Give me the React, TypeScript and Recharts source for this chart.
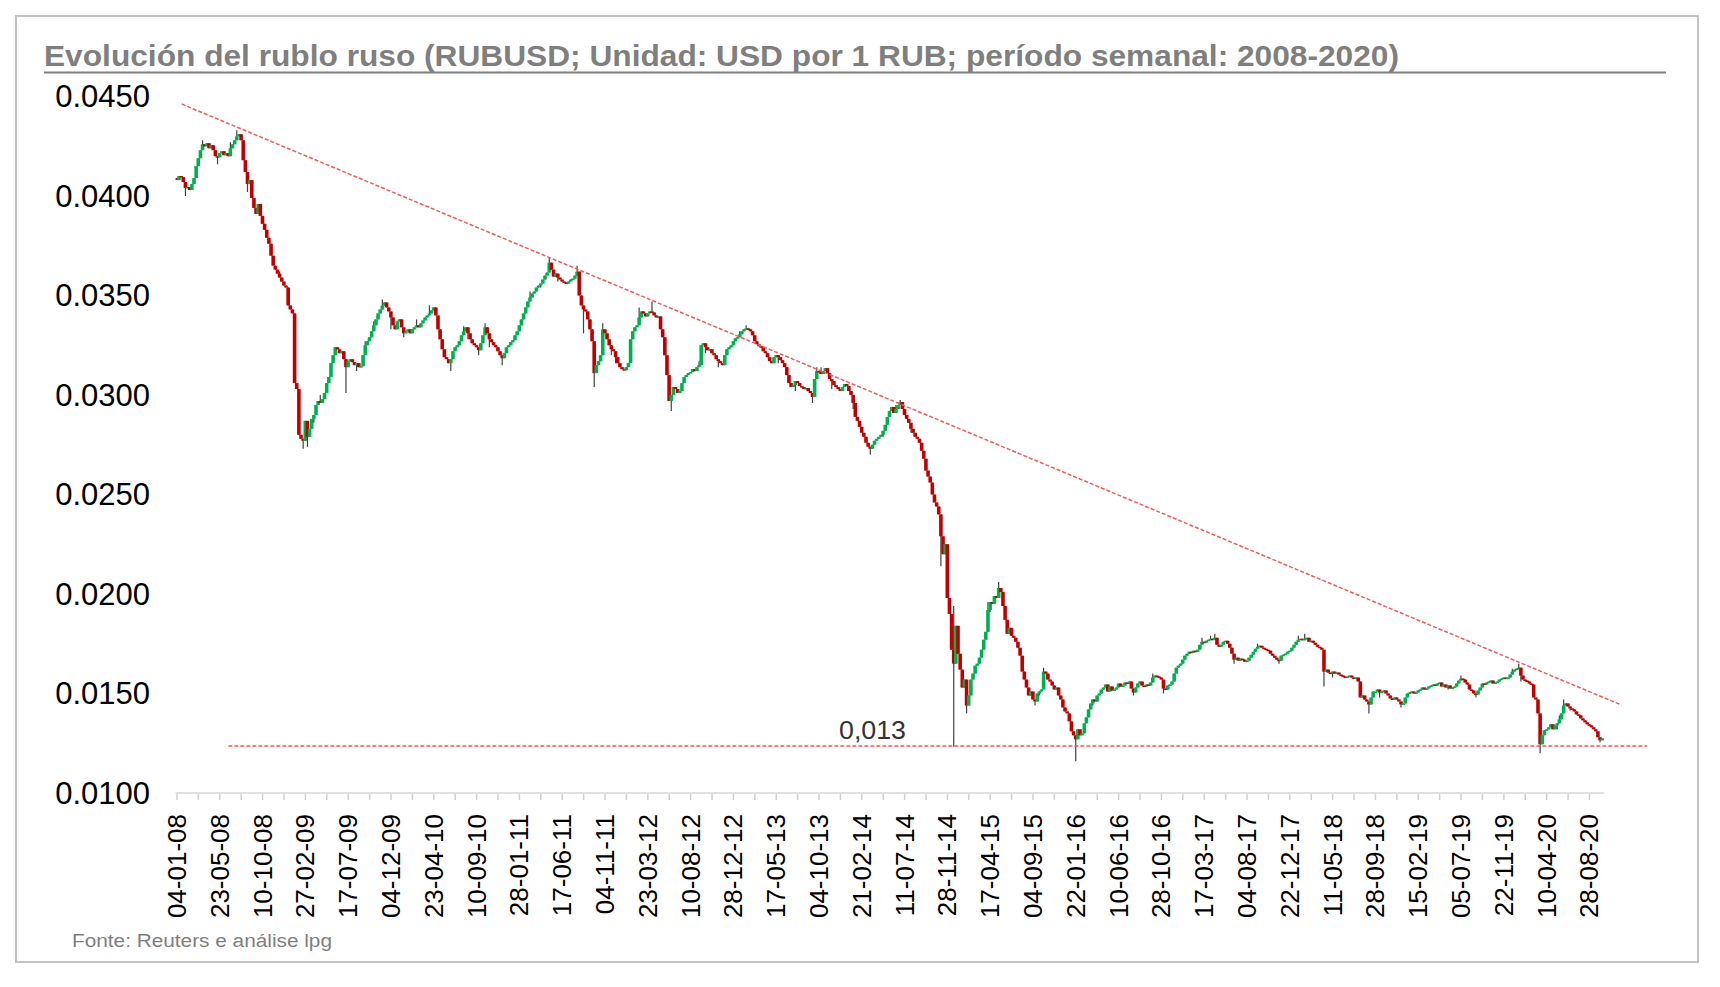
import React from "react";
import { ComposedChart, Bar, XAxis, YAxis, ReferenceLine } from "recharts";

// weekly closes RUBUSD, in units of 0.00001 USD (Friday of each week)
const close2008 = [
  4080, 4100, 4095, 4070, 4040, 4045, 4030, 4060, 4090, 4150,
  4190, 4230, 4260, 4250, 4265, 4240, 4255, 4230, 4200, 4195,
  4215, 4225, 4205, 4215, 4200, 4240, 4260, 4280, 4300, 4310,
  4280, 4180, 4120, 4060, 4080, 3990, 3940, 3910, 3960, 3900,
  3860, 3830, 3790, 3760, 3700, 3650, 3630, 3610, 3590, 3570,
  3550, 3540,
];
const close2009 = [
  3450, 3430, 3410, 3060, 3030, 2800, 2780, 2770,
  2870, 2790, 2830, 2880, 2900, 2950, 2970, 2960, 2980, 3010,
  3060, 3090, 3160, 3200, 3240, 3230, 3210, 3220, 3180, 3140,
  3170, 3180, 3165, 3150, 3160, 3140, 3145, 3200, 3250, 3270,
  3290, 3320, 3350, 3380, 3410, 3430, 3450, 3465, 3440, 3420,
  3390, 3350, 3330, 3370,
];
const close2010 = [
  3380, 3340, 3310, 3320, 3330, 3310,
  3330, 3340, 3350, 3340, 3360, 3375, 3390, 3400, 3410, 3425,
  3440, 3400, 3330, 3280, 3230, 3190, 3180, 3160, 3180, 3220,
  3240, 3250, 3270, 3300, 3320, 3340, 3310, 3280, 3260, 3250,
  3240, 3225, 3260, 3300, 3340, 3310, 3280, 3265, 3250, 3240,
  3220, 3200, 3185, 3210, 3240, 3250, 3265,
];
const close2011 = [
  3275, 3300, 3320,
  3350, 3380, 3410, 3440, 3470, 3490, 3510, 3520, 3540, 3550,
  3560, 3580, 3600, 3615, 3665, 3630, 3595, 3610, 3590, 3580,
  3570, 3565, 3560, 3570, 3580, 3585, 3600, 3620, 3500, 3450,
  3430, 3420, 3380, 3330, 3270, 3110, 3150, 3170, 3200, 3330,
  3310, 3280, 3250, 3230, 3220, 3190, 3160, 3140, 3130,
];
const close2012 = [
  3125,
  3140, 3160, 3280, 3320, 3340, 3350, 3390, 3420, 3410, 3395,
  3410, 3420, 3415, 3400, 3390, 3395, 3330, 3290, 3200, 3100,
  2970, 3000, 3040, 3030, 3010, 3020, 3060, 3090, 3100, 3110,
  3115, 3130, 3120, 3140, 3150, 3250, 3260, 3240, 3225, 3230,
  3210, 3200, 3180, 3170, 3160, 3150, 3200, 3230, 3240, 3250,
  3270,
];
const close2013 = [
  3285, 3290, 3305, 3320, 3330, 3335, 3330, 3320, 3300,
  3270, 3255, 3245, 3240, 3220, 3210, 3190, 3170, 3160, 3190,
  3200, 3190, 3175, 3160, 3140, 3100, 3060, 3040, 3050, 3070,
  3060, 3045, 3040, 3030, 3035, 3020, 3010, 2990, 3080, 3120,
  3115, 3105, 3120, 3135, 3110, 3080, 3070, 3050, 3040, 3030,
  3020, 3040, 3055,
];
const close2014 = [
  3045, 3020, 3000, 2960, 2890, 2870, 2840,
  2810, 2790, 2760, 2740, 2730, 2750, 2770, 2780, 2790, 2800,
  2820, 2850, 2890, 2920, 2940, 2910, 2930, 2950, 2965, 2930,
  2900, 2880, 2860, 2830, 2810, 2790, 2780, 2760, 2720, 2680,
  2620, 2590, 2560, 2500, 2460, 2440, 2400, 2290, 2200, 2250,
  1980, 1900, 1720, 1650, 1840,
];
const close2015 = [
  1700, 1620, 1530, 1570, 1440,
  1490, 1570, 1600, 1640, 1650, 1680, 1720, 1770, 1810, 1920,
  1960, 1950, 1990, 1980, 2030, 2010, 1940, 1870, 1800, 1830,
  1790, 1780, 1760, 1730, 1690, 1610, 1570, 1530, 1490, 1510,
  1470, 1460, 1500, 1510, 1520, 1610, 1600, 1570, 1560, 1540,
  1520, 1530, 1490, 1470, 1430, 1410, 1400,
];
const close2016 = [
  1360, 1310, 1290,
  1270, 1320, 1290, 1300, 1350, 1380, 1420, 1450, 1470, 1460,
  1490, 1500, 1520, 1530, 1545, 1510, 1535, 1515, 1520, 1530,
  1550, 1535, 1540, 1555, 1550, 1560, 1525, 1505, 1530, 1550,
  1560, 1540, 1535, 1545, 1540, 1555, 1580, 1590, 1585, 1580,
  1570, 1525, 1520, 1540, 1545, 1560, 1600, 1630, 1640, 1650,
];
const close2017 = [
  1670, 1690, 1700, 1710, 1705, 1715, 1710, 1720, 1745, 1760,
  1755, 1765, 1770, 1775, 1770, 1780, 1745, 1735, 1745, 1760,
  1765, 1750, 1730, 1700, 1670, 1680, 1665, 1675, 1670, 1660,
  1665, 1680, 1695, 1710, 1725, 1735, 1740, 1730, 1725, 1720,
  1715, 1700, 1690, 1680, 1670, 1665, 1690, 1695, 1700, 1710,
  1715, 1730,
];
const close2018 = [
  1745, 1760, 1770, 1775, 1768, 1775, 1780, 1760,
  1765, 1755, 1745, 1735, 1730, 1720, 1610, 1620, 1605, 1600,
  1610, 1600, 1605, 1595, 1590, 1585, 1580, 1585, 1590, 1580,
  1575, 1580, 1560, 1480, 1490, 1470, 1460, 1445, 1480, 1510,
  1510, 1520, 1505, 1510, 1515, 1500, 1490, 1475, 1470, 1480,
  1470, 1460, 1445, 1450,
];
const close2019 = [
  1480, 1500, 1505, 1510, 1500, 1505,
  1515, 1520, 1530, 1520, 1525, 1535, 1540, 1545, 1540, 1550,
  1555, 1535, 1545, 1530, 1540, 1525, 1530, 1535, 1550, 1565,
  1575, 1570, 1555, 1545, 1520, 1515, 1500, 1495, 1515, 1530,
  1550, 1545, 1555, 1560, 1565, 1550, 1555, 1560, 1570, 1575,
  1580, 1575, 1580, 1595, 1610, 1620,
];
const close2020 = [
  1625, 1630, 1590, 1570,
  1565, 1560, 1550, 1545, 1480, 1470, 1400, 1245, 1290, 1315,
  1320, 1330, 1345, 1320, 1340, 1350, 1370, 1400, 1440, 1450,
  1435, 1425, 1420, 1410, 1395, 1390, 1375, 1365, 1355, 1345,
  1340, 1330, 1320, 1310, 1280, 1265, 1275,
];

const weeklyCloses = [
  ...close2008, ...close2009, ...close2010, ...close2011, ...close2012,
  ...close2013, ...close2014, ...close2015, ...close2016, ...close2017,
  ...close2018, ...close2019, ...close2020,
];
const firstOpen = 4090;

// visible shadows: [week, price]
const wickHighs: [number, number][] = [
  [12, 4280], [25, 4270], [28, 4330], [48, 3620], [67, 3000], [88, 3270],
  [92, 3370], [96, 3480], [112, 3380], [118, 3450], [134, 3345], [144, 3360],
  [165, 3520], [174, 3690], [187, 3650], [199, 3360], [216, 3440], [222, 3470],
  [244, 3170], [263, 3320], [266, 3350], [299, 3140], [301, 3140], [336, 2950],
  [338, 2975], [363, 1940], [379, 1960], [384, 2060], [405, 1630], [456, 1600],
  [479, 1780], [483, 1790], [485, 1800], [505, 1750], [524, 1790], [527, 1800],
  [600, 1590], [624, 1625], [627, 1650], [646, 1390], [648, 1470],
];
const wickLows: [number, number][] = [
  [4, 4000], [19, 4160], [33, 4020], [55, 3260], [59, 2730], [61, 2740],
  [64, 2860], [74, 3200], [79, 3010], [84, 3120], [100, 3330], [106, 3290],
  [128, 3120], [136, 3280], [141, 3200], [146, 3240], [152, 3150], [170, 3540],
  [178, 3570], [190, 3310], [195, 3040], [203, 3200], [205, 3160], [231, 2920],
  [236, 3020], [247, 3210], [253, 3140], [281, 3160], [289, 3020], [297, 2960],
  [306, 3030], [316, 2930], [324, 2700], [330, 2790], [343, 2810], [357, 2140],
  [363, 1233], [369, 1400], [372, 1580], [380, 1910], [401, 1440], [403, 1490],
  [420, 1160], [428, 1440], [447, 1490], [461, 1500], [494, 1650], [515, 1650],
  [536, 1535], [540, 1580], [557, 1400], [562, 1480], [572, 1430], [594, 1520],
  [607, 1480], [628, 1560], [637, 1200], [645, 1320], [651, 1415], [665, 1255],
];

// one label every 20 weeks
const dateLabels = [
  "04-01-08", "23-05-08", "10-10-08", "27-02-09", "17-07-09", "04-12-09",
  "23-04-10", "10-09-10", "28-01-11", "17-06-11", "04-11-11", "23-03-12",
  "10-08-12", "28-12-12", "17-05-13", "04-10-13", "21-02-14", "11-07-14",
  "28-11-14", "17-04-15", "04-09-15", "22-01-16", "10-06-16", "28-10-16",
  "17-03-17", "04-08-17", "22-12-17", "11-05-18", "28-09-18", "15-02-19",
  "05-07-19", "22-11-19", "10-04-20", "28-08-20",
];
const yTicks = [0.01, 0.015, 0.02, 0.025, 0.03, 0.035, 0.04, 0.045];

// annotations
const supportLevel = 0.01236;
const supportFrom = 24;
const supportTo = 687;
const trendStart = { x: 2.2, y: 0.04462 };
const trendEnd = { x: 675, y: 0.01442 };

const FONT = '"Liberation Sans", Arial, sans-serif';
const GREEN = "#00b050";
const RED = "#c00000";
const DASH = "#f25a5a";

const highMap = new Map(wickHighs);
const lowMap = new Map(wickLows);

const data = weeklyCloses.map((c, i) => {
  const open = (i === 0 ? firstOpen : weeklyCloses[i - 1]) / 1e5;
  const close = c / 1e5;
  const high = Math.max(open, close, (highMap.get(i) ?? 0) / 1e5);
  const low = Math.min(open, close, (lowMap.get(i) ?? 1e9) / 1e5);
  return { i, open, close, high, low, range: [low, high] };
});

const xTicks = Array.from({ length: dateLabels.length * 2 - 1 }, (_, k) => k * 10);

const Candle = (props: any) => {
  const { x, y, width, height, payload } = props;
  if (!payload) return null;
  const { open, close, high, low } = payload;
  const cx = x + width / 2;
  const span = high - low;
  const toY = (v: number) => (span > 0 ? y + ((high - v) / span) * height : y);
  const top = toY(Math.max(open, close));
  const bottom = toY(Math.min(open, close));
  const up = close >= open;
  return (
    <g>
      <line x1={cx} x2={cx} y1={toY(high)} y2={toY(low)} stroke="#404040" strokeWidth={1.2} />
      <rect x={cx - 1.8} y={top} width={3.6} height={Math.max(bottom - top, 1.5)} fill={up ? GREEN : RED} />
    </g>
  );
};

const XTick = ({ x, payload }: any) => {
  const v = payload.value;
  const label = v % 20 === 0 ? dateLabels[v / 20] : null;
  return (
    <g>
      <line x1={x} x2={x} y1={794} y2={800} stroke="#d0d0d0" strokeWidth={1.5} />
      {label && (
        <text
          x={x}
          y={814}
          transform={`rotate(-90 ${x} 814)`}
          textAnchor="end"
          dominantBaseline="central"
          fontFamily={FONT}
          fontSize={26}
          fill="#000"
        >
          {label}
        </text>
      )}
    </g>
  );
};

const YTick = ({ y, payload }: any) => (
  <text x={150} y={y} textAnchor="end" dominantBaseline="central" fontFamily={FONT} fontSize={31} fill="#000">
    {payload.value.toFixed(4)}
  </text>
);

export default function App() {
  return (
    <div style={{ position: "fixed", left: 0, top: 0, width: 1720, height: 987, background: "#fff" }}>
      <div
        style={{
          position: "absolute",
          left: 15,
          top: 15,
          width: 1684,
          height: 948,
          border: "2px solid #c4c4c4",
          boxSizing: "border-box",
        }}
      />
      <div style={{ position: "absolute", left: 0, top: 0 }}>
        <ComposedChart width={1720} height={987} data={data} margin={{ top: 96.5, right: 116, bottom: 74, left: 15.5 }}>
          <XAxis
            dataKey="i"
            type="number"
            domain={[-0.7, 666.8]}
            allowDataOverflow
            ticks={xTicks}
            interval={0}
            height={120}
            tickLine={false}
            axisLine={{ stroke: "#d6d6d6", strokeWidth: 1.5 }}
            tick={<XTick />}
          />
          <YAxis
            type="number"
            domain={[0.01, 0.045]}
            ticks={yTicks}
            width={160}
            axisLine={false}
            tickLine={false}
            tick={<YTick />}
          />
          <Bar dataKey="range" barSize={3} shape={<Candle />} isAnimationActive={false} />
          <ReferenceLine
            segment={[trendStart, trendEnd]}
            stroke={DASH}
            strokeWidth={1.5}
            strokeDasharray="4 2"
            ifOverflow="visible"
          />
          <ReferenceLine
            segment={[
              { x: supportFrom, y: supportLevel },
              { x: supportTo, y: supportLevel },
            ]}
            stroke={DASH}
            strokeWidth={1.5}
            strokeDasharray="4 2"
            ifOverflow="visible"
          />
        </ComposedChart>
      </div>
      <svg width={1720} height={987} style={{ position: "absolute", left: 0, top: 0, pointerEvents: "none" }}>
        <text
          x={44}
          y={66}
          fontFamily={FONT}
          fontWeight="bold"
          fontSize={30}
          fill="#7f7f7f"
          textLength={1355}
          lengthAdjust="spacingAndGlyphs"
        >
          Evolución del rublo ruso (RUBUSD; Unidad: USD por 1 RUB; período semanal: 2008-2020)
        </text>
        <line x1={44} x2={1666} y1={72.5} y2={72.5} stroke="#7f7f7f" strokeWidth={2} />
        <text x={839} y={738.5} fontFamily={FONT} fontSize={25} fill="#333" textLength={67} lengthAdjust="spacingAndGlyphs">
          0,013
        </text>
        <text x={72} y={946.5} fontFamily={FONT} fontSize={18} fill="#7f7f7f" textLength={260} lengthAdjust="spacingAndGlyphs">
          Fonte: Reuters e análise lpg
        </text>
      </svg>
    </div>
  );
}
